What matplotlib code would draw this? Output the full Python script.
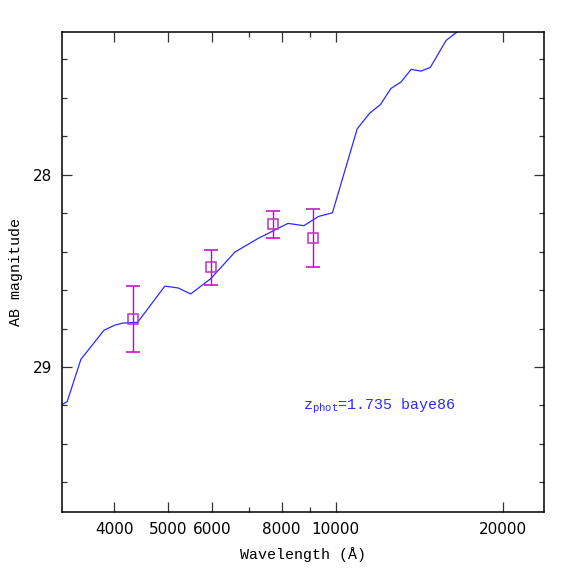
import numpy as np
import matplotlib
matplotlib.use('Agg')
import matplotlib.pyplot as plt
from matplotlib.ticker import FixedLocator, NullFormatter, FixedFormatter, MultipleLocator

# Best-fit template SED (wavelength in Angstrom, AB magnitude)
sed_wave = [3200, 3290, 3482, 3834, 4009, 4148, 4403, 4931, 5212, 5486, 5965,
            6590, 7257, 8209, 8770, 9313, 9868, 10936, 11502, 12040, 12576,
            13108, 13674, 14238, 14799, 15806, 16561, 17450]
sed_mag = [29.20, 29.18, 28.96, 28.808, 28.782, 28.771, 28.768, 28.579, 28.589,
           28.620, 28.540, 28.402, 28.331, 28.253, 28.265, 28.217, 28.198,
           27.761, 27.681, 27.635, 27.551, 27.518, 27.452, 27.461, 27.442,
           27.301, 27.256, 27.216]

# Observed photometry
phot_wave = [4325, 5966, 7721, 9090]
phot_mag = [28.75, 28.482, 28.258, 28.329]
phot_err = [0.17, 0.09, 0.07, 0.15]

x_major = [4000, 5000, 6000, 8000, 10000, 20000]
x_major_labels = ['4000', '5000', '6000', '8000', '10000', '20000']
x_minor = [7000, 9000]
y_major = [28, 29]

label_font = 'Liberation Mono'

fig = plt.figure(figsize=(5.74, 5.74), dpi=100)
ax = fig.add_axes([0.108, 0.108, 0.839, 0.8368])

ax.plot(sed_wave, sed_mag, color='#2a2aff', lw=0.9)
ax.errorbar(phot_wave, phot_mag, yerr=phot_err, fmt='s', mfc='none',
            mec='#c030c0', ms=7, mew=1.1, ecolor='#c800c8', elinewidth=1.0,
            capsize=5, capthick=1.0)

ax.set_xscale('log')
ax.set_xlim(3220, 23660)
ax.set_ylim(29.754, 27.256)

ax.xaxis.set_major_locator(FixedLocator(x_major))
ax.xaxis.set_major_formatter(FixedFormatter(x_major_labels))
ax.xaxis.set_minor_locator(FixedLocator(x_minor))
ax.xaxis.set_minor_formatter(NullFormatter())
ax.yaxis.set_major_locator(FixedLocator(y_major))
ax.yaxis.set_minor_locator(MultipleLocator(0.2))

ax.tick_params(which='both', direction='in', top=True, right=True,
               color='#333333', width=0.9)
ax.tick_params(which='major', length=7.4, pad=7, labelsize=11)
ax.tick_params(which='minor', length=3.8)
for s in ax.spines.values():
    s.set_linewidth(1.1)

ax.set_xlabel('Wavelength (Å)', family=label_font, fontsize=10.8, va='center')
ax.xaxis.set_label_coords(0.5, -0.0895)
ax.set_ylabel('AB magnitude', family=label_font, fontsize=10.8, va='center')
ax.yaxis.set_label_coords(-0.0955, 0.5)

plt.rcParams['mathtext.fontset'] = 'custom'
plt.rcParams['mathtext.rm'] = label_font
ax.text(8740, 29.224, r'$\mathrm{z_{phot}}$=1.735 baye86', color='#2a2aff',
        family=label_font, fontsize=10.8, va='baseline', ha='left')

fig.savefig('out.png', dpi=100)
